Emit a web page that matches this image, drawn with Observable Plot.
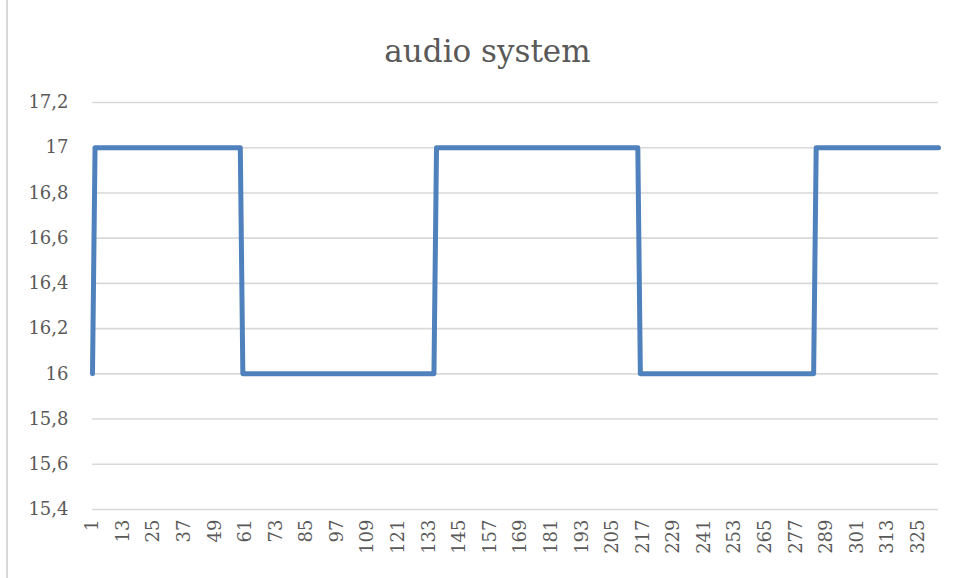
<!DOCTYPE html>
<html>
<head>
<meta charset="utf-8">
<script src="https://cdn.jsdelivr.net/npm/d3@7"></script>
<script src="https://cdn.jsdelivr.net/npm/@observablehq/plot@0.6"></script>
<style>
  html, body { margin: 0; padding: 0; background: #fff; }
  #wrap { position: relative; width: 957px; height: 578px; overflow: hidden; background: #fff; }
  #border { position: absolute; left: 6px; top: 0; width: 2px; height: 578px; background: #d9d9d9; }
  #title { position: absolute; left: 0; top: 0; width: 957px; height: 80px; box-sizing: border-box;
           padding-left: 18px; text-align: center; font-family: "DejaVu Serif", serif; font-size: 31px;
           color: #595959; line-height: 1; padding-top: 36px; }
  #chart { position: absolute; left: 0; top: 80px; }
</style>
</head>
<body>
<div id="wrap">
  <div id="border"></div>
  <div id="title">audio system</div>
  <div id="chart"></div>
</div>
<script>
// Series as runs of equal values (sample index 1..333)
const runValues  = [16, 17, 16, 17, 16, 17];
const runLengths = [1, 58, 76, 80, 69, 49];
const yTicks = [15.4, 15.6, 15.8, 16, 16.2, 16.4, 16.6, 16.8, 17, 17.2];
const xTicks = [1, 13, 25, 37, 49, 61, 73, 85, 97, 109, 121, 133, 145, 157, 169, 181, 193, 205, 217, 229, 241, 253, 265, 277, 289, 301, 313, 325];

const data = [];
runValues.forEach((v, i) => {
  for (let k = 0; k < runLengths[i]; k++) data.push({x: data.length + 1, y: v});
});
const n = data.length;

const fmt = d => String(Math.round(d * 10) / 10).replace(".", ",");

const chart = Plot.plot({
  width: 957,
  height: 498,
  marginLeft: 92,
  marginRight: 19,
  marginTop: 22,
  marginBottom: 69,
  style: {fontFamily: "DejaVu Serif, serif", fontSize: "18px", color: "#595959", background: "transparent"},
  x: {domain: [1, n], label: null},
  y: {domain: [15.4, 17.2], label: null},
  marks: [
    Plot.ruleY(yTicks, {stroke: "#d9d9d9", strokeWidth: 1.6}),
    Plot.line(data, {x: "x", y: "y", stroke: "#4f81bd", strokeWidth: 5, strokeLinejoin: "round", strokeLinecap: "round"}),
    Plot.axisX({ticks: xTicks, tickFormat: d => String(d), tickRotate: -90, tickSize: 0, tickPadding: 10, fill: "#595959", fontSize: 18, label: null}),
    Plot.axisY({ticks: yTicks, tickFormat: fmt, tickSize: 0, tickPadding: 24, fill: "#595959", fontSize: 18, label: null})
  ]
});
document.getElementById("chart").appendChild(chart);
</script>
</body>
</html>
